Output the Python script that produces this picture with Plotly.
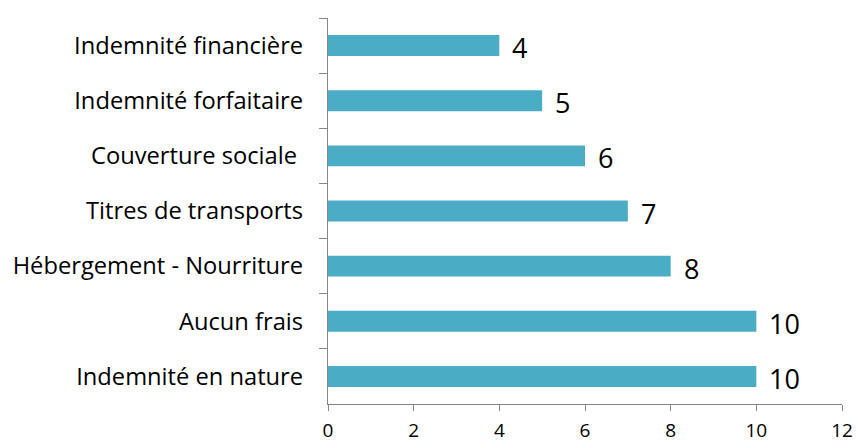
import plotly.graph_objects as go

categories = [
    "Indemnité financière",
    "Indemnité forfaitaire",
    "Couverture sociale\u00a0",
    "Titres de transports",
    "Hébergement - Nourriture",
    "Aucun frais",
    "Indemnité en nature",
]
values = [4, 5, 6, 7, 8, 10, 10]
x_ticks = [0, 2, 4, 6, 8, 10, 12]

BAR = "#4BACC6"
AXIS = "#868686"
FONT = "Open Sans"

fig = go.Figure()
fig.add_trace(go.Bar(
    x=values, y=categories, orientation="h",
    marker=dict(color=BAR, line=dict(width=0)),
    width=0.38, hoverinfo="skip",
))

for c, v in zip(categories, values):
    fig.add_annotation(
        x=v, y=c, text=str(v), showarrow=False,
        xanchor="left", yanchor="middle", xshift=11, yshift=-2,
        font=dict(family=FONT, size=27, color="#000000"),
    )

fig.update_layout(
    width=856, height=443,
    margin=dict(l=328, r=14, t=18, b=38.5, pad=0),
    paper_bgcolor="white", plot_bgcolor="white",
    showlegend=False,
    bargap=0.62,
)
fig.update_xaxes(
    range=[0, 12], tickmode="array", tickvals=x_ticks,
    ticktext=[str(t) for t in x_ticks],
    showgrid=False, zeroline=False, automargin=False,
    showline=True, linecolor=AXIS, linewidth=1.3,
    ticks="outside", ticklen=6, tickcolor=AXIS, tickwidth=1.3,
    ticklabelstandoff=3,
    tickfont=dict(family=FONT, size=19, color="#000000"),
    fixedrange=True,
)
fig.update_yaxes(
    type="category", autorange="reversed", automargin=False,
    showgrid=False, zeroline=False,
    showline=True, linecolor=AXIS, linewidth=1.3,
    ticks="outside", ticklen=8, tickcolor=AXIS, tickwidth=1.3,
    tickson="boundaries", ticklabelstandoff=19,
    tickfont=dict(family=FONT, size=23.7, color="#000000"),
    fixedrange=True,
)

fig.write_html(
    "out.html",
    config={"displayModeBar": False},
    post_script="document.body.style.margin='0';document.body.style.overflow='hidden';",
)
